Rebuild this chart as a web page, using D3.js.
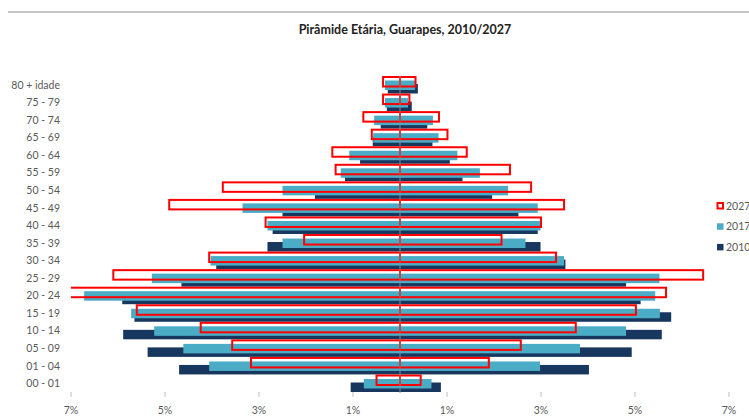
<!DOCTYPE html>
<html>
<head>
<meta charset="utf-8">
<script src="https://cdn.jsdelivr.net/npm/d3@7"></script>
<style>
  html, body { margin: 0; padding: 0; background: #fff; }
  svg { display: block; }
  text { font-family: Lato, "Liberation Sans", sans-serif; }
</style>
</head>
<body>
<svg id="chart" width="749" height="417"></svg>
<script>
// Age groups, top to bottom
const categories = ["80 + idade","75 - 79","70 - 74","65 - 69","60 - 64","55 - 59","50 - 54","45 - 49","40 - 44","35 - 39","30 - 34","25 - 29","20 - 24","15 - 19","10 - 14","05 - 09","01 - 04","00 - 01"];
// Left side (%)
const left2027 = [0.36,0.36,0.78,0.60,1.44,1.37,3.77,4.91,2.86,2.04,4.06,6.10,7.10,5.60,4.24,3.57,3.17,0.50];
const left2017 = [0.32,0.32,0.55,0.57,1.08,1.26,2.50,3.35,2.82,2.50,4.03,5.28,6.72,5.72,5.23,4.61,4.06,0.77];
const left2010 = [0.26,0.28,0.41,0.58,0.85,1.17,1.81,2.50,2.71,2.82,3.91,4.65,5.91,5.65,5.89,5.37,4.70,1.05];
// Right side (%)
const right2027 = [0.33,0.20,0.83,1.01,1.42,2.34,2.79,3.49,3.00,2.16,3.32,6.45,5.66,5.02,3.74,2.57,1.89,0.44];
const right2017 = [0.32,0.17,0.70,0.82,1.22,1.70,2.30,2.93,2.99,2.67,3.49,5.52,5.43,5.53,4.81,3.83,2.98,0.67];
const right2010 = [0.38,0.25,0.58,0.69,1.06,1.33,1.96,2.52,2.93,2.99,3.52,4.81,5.12,5.77,5.57,4.93,4.02,0.87];
const tickValues = [-7,-5,-3,-1,1,3,5,7];
const seriesNames = ["2027","2017","2010"];
const title = "Pirâmide Etária, Guarapes, 2010/2027";

const svg = d3.select("#chart");
const x = d3.scaleLinear().domain([-7, 7]).range([71, 729]);
const y = d3.scalePoint().domain(categories).range([85, 383.5]);

const colors = { "2027": "#FF0000", "2017": "#4BACC6", "2010": "#17375E" };
const barH = 9.5;
const offs = { "2027": -8, "2017": -4.5, "2010": -1 };

// top grey rule
svg.append("line").attr("x1", 8).attr("x2", 749).attr("y1", 12).attr("y2", 12)
  .attr("stroke", "#b3b3b3").attr("stroke-width", 1.5);

// title
svg.append("text").attr("x", 405).attr("y", 34).attr("text-anchor", "middle")
  .attr("font-size", 12.5).attr("font-weight", "bold").attr("fill", "#222")
  .text(title);

svg.append("defs").append("clipPath").attr("id", "plot")
  .append("rect").attr("x", 71).attr("y", 60).attr("width", 658).attr("height", 340);

const g = svg.append("g").attr("clip-path", "url(#plot)");

function rows(vals, sign) {
  return categories.map((c, i) => ({ c, v: sign * vals[i] }));
}
const data = {
  "2010": [rows(left2010, -1), rows(right2010, 1)],
  "2017": [rows(left2017, -1), rows(right2017, 1)],
  "2027": [rows(left2027, -1), rows(right2027, 1)]
};

["2010", "2017"].forEach(s => {
  data[s].forEach(side => {
    g.selectAll(null).data(side).enter().append("rect")
      .attr("x", d => Math.min(x(0), x(d.v)))
      .attr("width", d => Math.abs(x(d.v) - x(0)))
      .attr("y", d => y(d.c) + offs[s])
      .attr("height", barH)
      .attr("fill", colors[s]);
  });
});
data["2027"].forEach(side => {
  g.selectAll(null).data(side).enter().append("rect")
    .attr("x", d => Math.min(x(0), x(d.v)))
    .attr("width", d => Math.abs(x(d.v) - x(0)))
    .attr("y", d => y(d.c) + offs["2027"])
    .attr("height", barH)
    .attr("fill", "none")
    .attr("stroke", colors["2027"]).attr("stroke-width", 2);
});

// center axis line
svg.append("line").attr("x1", x(0)).attr("x2", x(0)).attr("y1", 76).attr("y2", 393)
  .attr("stroke", "#8c8c8c").attr("stroke-width", 1);

// y labels
svg.append("g").selectAll("text").data(categories).enter().append("text")
  .attr("x", 60).attr("y", d => y(d)).attr("dy", "0.35em")
  .attr("text-anchor", "end").attr("font-size", 10.5).attr("fill", "#595959")
  .text(d => d);

// x axis ticks
const xa = svg.append("g");
xa.selectAll("line").data(tickValues).enter().append("line")
  .attr("x1", d => x(d)).attr("x2", d => x(d)).attr("y1", 392).attr("y2", 397)
  .attr("stroke", "#bfbfbf");
xa.selectAll("text").data(tickValues).enter().append("text")
  .attr("x", d => x(d)).attr("y", 410).attr("dy", "0.35em")
  .attr("text-anchor", "middle").attr("font-size", 10.5).attr("fill", "#595959")
  .text(d => Math.abs(d) + "%");

// legend
const lg = svg.append("g");
seriesNames.forEach((s, i) => {
  const ly = 206 + i * 20.6;
  if (s === "2027") {
    lg.append("rect").attr("x", 717.5).attr("y", ly - 3).attr("width", 5.5).attr("height", 5.5)
      .attr("fill", "#fff").attr("stroke", colors[s]).attr("stroke-width", 2);
  } else {
    lg.append("rect").attr("x", 717).attr("y", ly - 3.3).attr("width", 6.5).attr("height", 6.5)
      .attr("fill", colors[s]);
  }
  lg.append("text").attr("x", 726).attr("y", ly).attr("dy", "0.35em")
    .attr("font-size", 10.5).attr("fill", "#595959").text(s);
});
</script>
</body>
</html>
